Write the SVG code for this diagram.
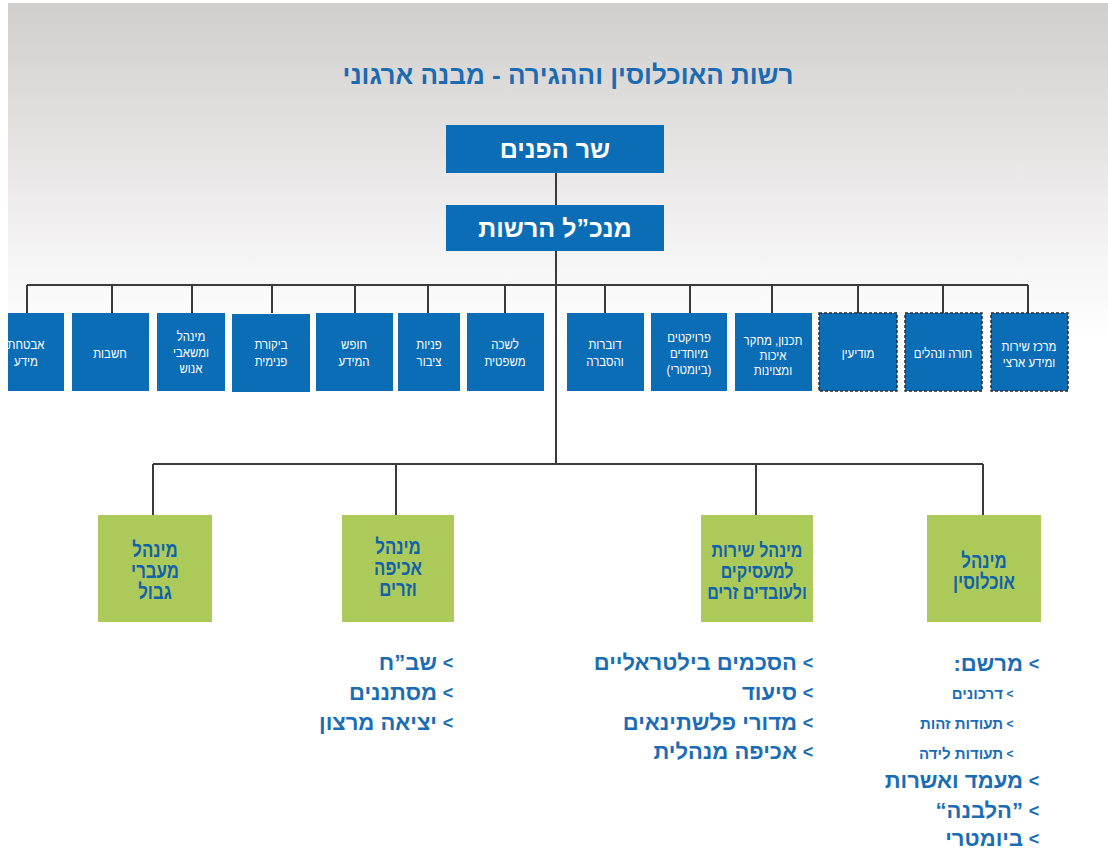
<svg xmlns="http://www.w3.org/2000/svg" width="1108" height="854" viewBox="0 0 1108 854">
<defs>
<linearGradient id="bg" gradientUnits="userSpaceOnUse" x1="0" y1="3" x2="0" y2="854">
<stop offset="0" stop-color="#d1cfce"/>
<stop offset="0.14" stop-color="#e2dfdf"/>
<stop offset="0.3" stop-color="#f6f5f5"/>
<stop offset="0.4" stop-color="#ffffff"/>
<stop offset="1" stop-color="#ffffff"/>
</linearGradient>
<clipPath id="crop"><rect x="8" y="0" width="1100" height="854"/></clipPath>
<style>
.blue{fill:#0b6db5}
.dash{fill:#0b6db5;stroke:#2b2b2b;stroke-width:1.5;stroke-dasharray:3 2}
.green{fill:#acca5a}
.conn{stroke:#3a3a3a;stroke-width:2;fill:none}
.hb{font-family:"Liberation Sans","DejaVu Sans",sans-serif;font-weight:bold}
.wt{font-family:"Liberation Sans","DejaVu Sans",sans-serif;font-size:13px;fill:#ffffff}
.big{font-size:25px;fill:#ffffff}
.gt{font-size:21px;fill:#1262a8}
.gs{font-size:20px;fill:#1262a8}
.li{font-size:22px;fill:#1a6db5}
.ls{font-size:15px;fill:#1a6db5}
.ar{font-family:"Liberation Sans","DejaVu Sans",sans-serif;font-weight:bold;fill:#1a6db5}
</style>
</defs>
<rect x="8" y="3" width="1100" height="851" fill="url(#bg)"/>

<text class="hb" x="568" y="84" font-size="26" fill="#1b6bb2" text-anchor="middle" direction="rtl">רשות האוכלוסין וההגירה - מבנה ארגוני</text>

<g id="connectors">
<path class="conn" d="M556 172V205M556 251V464M27 285H1028M153 464H983"/>
<path class="conn" d="M27 285V313M112 285V313M192 285V313M272 285V313M355 285V313M428 285V313M505 285V313M605 285V313M690 285V313M772 285V313M858 285V313M943 285V313M1028 285V313"/>
<path class="conn" d="M153 464V515M396 464V515M756 464V515M983 464V515"/>
</g>

<g id="minister">
<rect class="blue" x="446" y="125" width="218" height="48"/>
<text class="hb big" x="555" y="158" text-anchor="middle" direction="rtl">שר הפנים</text>
</g>
<g id="director">
<rect class="blue" x="446" y="205" width="218" height="46"/>
<text class="hb big" x="555" y="237" text-anchor="middle" direction="rtl">מנכ”ל הרשות</text>
</g>

<g id="n1" clip-path="url(#crop)">
<rect class="blue" x="-12" y="313" width="76" height="78"/>
<g transform="translate(26,0) scale(0.88,1)"><text class="wt" x="0" y="349" text-anchor="middle" direction="rtl">אבטחת</text><text class="wt" x="0" y="366" text-anchor="middle" direction="rtl">מידע</text></g>
</g>
<g id="n2">
<rect class="blue" x="72" y="313" width="77" height="78"/>
<g transform="translate(110,0) scale(0.88,1)"><text class="wt" x="0" y="358" text-anchor="middle" direction="rtl">חשבות</text></g>
</g>
<g id="n3">
<rect class="blue" x="157" y="313" width="68" height="78"/>
<g transform="translate(191,0) scale(0.88,1)"><text class="wt" x="0" y="341" text-anchor="middle" direction="rtl">מינהל</text><text class="wt" x="0" y="357" text-anchor="middle" direction="rtl">ומשאבי</text><text class="wt" x="0" y="373" text-anchor="middle" direction="rtl">אנוש</text></g>
</g>
<g id="n4">
<rect class="blue" x="232" y="314" width="78" height="78"/>
<g transform="translate(271,0) scale(0.88,1)"><text class="wt" x="0" y="349" text-anchor="middle" direction="rtl">ביקורת</text><text class="wt" x="0" y="366" text-anchor="middle" direction="rtl">פנימית</text></g>
</g>
<g id="n5">
<rect class="blue" x="316" y="313" width="77" height="78"/>
<g transform="translate(354,0) scale(0.88,1)"><text class="wt" x="0" y="349" text-anchor="middle" direction="rtl">חופש</text><text class="wt" x="0" y="366" text-anchor="middle" direction="rtl">המידע</text></g>
</g>
<g id="n6">
<rect class="blue" x="398" y="313" width="62" height="78"/>
<g transform="translate(429,0) scale(0.88,1)"><text class="wt" x="0" y="349" text-anchor="middle" direction="rtl">פניות</text><text class="wt" x="0" y="366" text-anchor="middle" direction="rtl">ציבור</text></g>
</g>
<g id="n7">
<rect class="blue" x="467" y="313" width="77" height="78"/>
<g transform="translate(505,0) scale(0.88,1)"><text class="wt" x="0" y="349" text-anchor="middle" direction="rtl">לשכה</text><text class="wt" x="0" y="366" text-anchor="middle" direction="rtl">משפטית</text></g>
</g>
<g id="n8">
<rect class="blue" x="567" y="313" width="77" height="78"/>
<g transform="translate(605,0) scale(0.88,1)"><text class="wt" x="0" y="349" text-anchor="middle" direction="rtl">דוברות</text><text class="wt" x="0" y="366" text-anchor="middle" direction="rtl">והסברה</text></g>
</g>
<g id="n9">
<rect class="blue" x="651" y="313" width="76" height="78"/>
<g transform="translate(689,0) scale(0.88,1)"><text class="wt" x="0" y="342" text-anchor="middle" direction="rtl">פרויקטים</text><text class="wt" x="0" y="358" text-anchor="middle" direction="rtl">מיוחדים</text><text class="wt" x="0" y="374" text-anchor="middle" direction="rtl">(ביומטרי)</text></g>
</g>
<g id="n10">
<rect class="blue" x="735" y="313" width="77" height="78"/>
<g transform="translate(773,0) scale(0.88,1)"><text class="wt" x="0" y="345" text-anchor="middle" direction="rtl">תכנון, מחקר</text><text class="wt" x="0" y="360" text-anchor="middle" direction="rtl">איכות</text><text class="wt" x="0" y="375" text-anchor="middle" direction="rtl">ומצוינות</text></g>
</g>
<g id="n11">
<rect class="dash" x="819" y="313" width="78" height="78"/>
<g transform="translate(858,0) scale(0.88,1)"><text class="wt" x="0" y="358" text-anchor="middle" direction="rtl">מודיעין</text></g>
</g>
<g id="n12">
<rect class="dash" x="905" y="313" width="77" height="78"/>
<g transform="translate(943,0) scale(0.88,1)"><text class="wt" x="0" y="358" text-anchor="middle" direction="rtl">תורה ונהלים</text></g>
</g>
<g id="n13">
<rect class="dash" x="991" y="313" width="77" height="78"/>
<g transform="translate(1029,0) scale(0.88,1)"><text class="wt" x="0" y="351" text-anchor="middle" direction="rtl">מרכז שירות</text><text class="wt" x="0" y="367" text-anchor="middle" direction="rtl">ומידע ארצי</text></g>
</g>

<g id="g1">
<rect class="green" x="98" y="515" width="114" height="107"/>
<g transform="translate(155,0) scale(0.8,1)"><text class="hb gt" x="0" y="557" text-anchor="middle" direction="rtl">מינהל</text><text class="hb gt" x="0" y="578" text-anchor="middle" direction="rtl">מעברי</text><text class="hb gt" x="0" y="599" text-anchor="middle" direction="rtl">גבול</text></g>
</g>
<g id="g2">
<rect class="green" x="342" y="515" width="112" height="107"/>
<g transform="translate(398,0) scale(0.8,1)"><text class="hb gt" x="0" y="554" text-anchor="middle" direction="rtl">מינהל</text><text class="hb gt" x="0" y="575" text-anchor="middle" direction="rtl">אכיפה</text><text class="hb gt" x="0" y="596" text-anchor="middle" direction="rtl">וזרים</text></g>
</g>
<g id="g3">
<rect class="green" x="701" y="515" width="112" height="107"/>
<g transform="translate(757,0) scale(0.8,1)"><text class="hb gs" x="0" y="557" text-anchor="middle" direction="rtl">מינהל שירות</text><text class="hb gs" x="0" y="578" text-anchor="middle" direction="rtl">למעסיקים</text><text class="hb gs" x="0" y="599" text-anchor="middle" direction="rtl">ולעובדים זרים</text></g>
</g>
<g id="g4">
<rect class="green" x="927" y="515" width="114" height="107"/>
<g transform="translate(984,0) scale(0.8,1)"><text class="hb gt" x="0" y="568" text-anchor="middle" direction="rtl">מינהל</text><text class="hb gt" x="0" y="589" text-anchor="middle" direction="rtl">אוכלוסין</text></g>
</g>

<g id="list-enforcement">
<text class="ar" x="448" y="669" font-size="18" text-anchor="middle">&lt;</text>
<text class="hb li" x="437" y="670" direction="rtl">שב”ח</text>
<text class="ar" x="448" y="699" font-size="18" text-anchor="middle">&lt;</text>
<text class="hb li" x="437" y="700" direction="rtl">מסתננים</text>
<text class="ar" x="448" y="729" font-size="18" text-anchor="middle">&lt;</text>
<text class="hb li" x="437" y="730" direction="rtl">יציאה מרצון</text>
</g>
<g id="list-employers">
<text class="ar" x="808" y="669" font-size="18" text-anchor="middle">&lt;</text>
<text class="hb li" x="797" y="670" direction="rtl">הסכמים בילטראליים</text>
<text class="ar" x="808" y="699" font-size="18" text-anchor="middle">&lt;</text>
<text class="hb li" x="797" y="700" direction="rtl">סיעוד</text>
<text class="ar" x="808" y="729" font-size="18" text-anchor="middle">&lt;</text>
<text class="hb li" x="797" y="730" direction="rtl">מדורי פלשתינאים</text>
<text class="ar" x="808" y="758" font-size="18" text-anchor="middle">&lt;</text>
<text class="hb li" x="797" y="759" direction="rtl">אכיפה מנהלית</text>
</g>
<g id="list-population">
<text class="ar" x="1034" y="670" font-size="18" text-anchor="middle">&lt;</text>
<text class="hb li" x="1023" y="671" direction="rtl">מרשם:</text>
<text class="ar" x="1010" y="698" font-size="12" text-anchor="middle">&lt;</text>
<text class="hb ls" x="1003" y="699" direction="rtl">דרכונים</text>
<text class="ar" x="1010" y="728" font-size="12" text-anchor="middle">&lt;</text>
<text class="hb ls" x="1003" y="729" direction="rtl">תעודות זהות</text>
<text class="ar" x="1010" y="758" font-size="12" text-anchor="middle">&lt;</text>
<text class="hb ls" x="1003" y="759" direction="rtl">תעודות לידה</text>
<text class="ar" x="1034" y="787" font-size="18" text-anchor="middle">&lt;</text>
<text class="hb li" x="1023" y="788" direction="rtl">מעמד ואשרות</text>
<text class="ar" x="1034" y="817" font-size="18" text-anchor="middle">&lt;</text>
<text class="hb li" x="1023" y="818" direction="rtl">”הלבנה“</text>
<text class="ar" x="1034" y="845" font-size="18" text-anchor="middle">&lt;</text>
<text class="hb li" x="1023" y="846" direction="rtl">ביומטרי</text>
</g>
</svg>
